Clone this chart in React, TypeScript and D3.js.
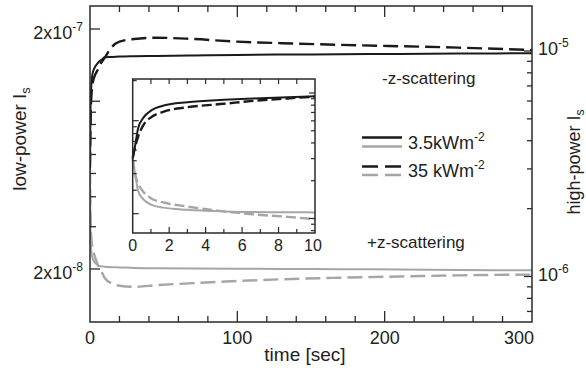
import React, { useEffect, useRef } from "react";
import * as d3 from "d3";

// time in seconds, shared by all four curves
const times = [0, 0.15, 0.3, 0.6, 1, 1.7, 3, 5, 6.6, 8.5, 10, 15, 20, 30, 45, 70, 100, 130, 170, 210, 250, 300];

// 3.5 kWm-2 (low-power axis)
const lowMinusZ = [5.15e-8, 6.7e-8, 8.8e-8, 1.06e-7, 1.19e-7, 1.3e-7, 1.375e-7, 1.435e-7, 1.47e-7, 1.5e-7, 1.525e-7,
  1.53e-7, 1.535e-7, 1.54e-7, 1.545e-7, 1.55e-7, 1.56e-7, 1.565e-7, 1.57e-7, 1.575e-7, 1.58e-7, 1.585e-7];
const lowPlusZ = [5.1e-8, 3.85e-8, 2.95e-8, 2.55e-8, 2.34e-8, 2.22e-8, 2.14e-8, 2.08e-8, 2.055e-8, 2.05e-8, 2.045e-8,
  2.035e-8, 2.03e-8, 2.02e-8, 2.015e-8, 2.01e-8, 2.005e-8, 2.0e-8, 1.995e-8, 1.99e-8, 1.982e-8, 1.975e-8];

// 35 kWm-2 (high-power axis)
const highMinusZ = [3.05e-6, 3.8e-6, 4.5e-6, 5.6e-6, 6.4e-6, 7.1e-6, 7.7e-6, 8.2e-6, 8.65e-6, 9.05e-6, 9.35e-6,
  1.045e-5, 1.1e-5, 1.13e-5, 1.145e-5, 1.13e-5, 1.1e-5, 1.083e-5, 1.065e-5, 1.05e-5, 1.035e-5, 1.01e-5];
const highPlusZ = [3.0e-6, 2.2e-6, 1.9e-6, 1.62e-6, 1.45e-6, 1.34e-6, 1.245e-6, 1.14e-6, 1.08e-6, 1.03e-6, 9.85e-7,
  9.3e-7, 9.1e-7, 9.0e-7, 9.15e-7, 9.35e-7, 9.55e-7, 9.72e-7, 9.88e-7, 1.0e-6, 1.012e-6, 1.02e-6];

const mainXLabels = [0, 100, 200, 300];
const insetXLabels = [0, 2, 4, 6, 8, 10];
const leftLabels = [2e-7, 2e-8];
const rightLabels = [1e-5, 1e-6];
const legendItems = ["3.5kWm", "35 kWm"];

const BLACK = "#1a1a1a";
const GRAY = "#a6a6a6";
const FRAME = "#2a2a2a";
const FONT = "'Liberation Sans', Arial, Helvetica, sans-serif";

const Chart = () => {
  const svgRef = useRef(null);
  const width = 586;
  const height = 374;

  useEffect(() => {
    const svg = d3.select(svgRef.current).attr("width", width).attr("height", height);
    svg.selectAll("*").remove();
    svg.style("font-family", FONT);

    const box = { left: 90, right: 532, top: 6, bottom: 322 };
    const ibox = { left: 132.7, right: 315, top: 79, bottom: 233 };

    const x = d3.scaleLinear().domain([0, 300]).range([box.left, box.right]);
    const yLow = d3.scaleLog().domain([1.2025e-8, 2.494e-7]).range([box.bottom, box.top]);
    const yHigh = d3.scaleLog().domain([6.285e-7, 1.583e-5]).range([box.bottom, box.top]);

    const ix = d3.scaleLinear().domain([0, 10]).range([ibox.left, ibox.right]);
    const iyLow = d3.scaleLog().domain([1.431e-8, 2.058e-7]).range([ibox.bottom, ibox.top]);
    const iyHigh = d3.scaleLog().domain([7.66e-7, 1.293e-5]).range([ibox.bottom, ibox.top]);

    const near = (a, b) => Math.abs(a / b - 1) < 1e-6;

    const defs = svg.append("defs");
    defs.append("clipPath").attr("id", "mainClip").append("rect")
      .attr("x", box.left).attr("y", box.top)
      .attr("width", box.right - box.left).attr("height", box.bottom - box.top);

    // ---- main curves
    const series = [
      { vals: lowMinusZ, y: yLow, iy: iyLow, color: BLACK, dash: null, w: 2 },
      { vals: highMinusZ, y: yHigh, iy: iyHigh, color: BLACK, dash: "15 6", w: 2.4 },
      { vals: lowPlusZ, y: yLow, iy: iyLow, color: GRAY, dash: null, w: 2 },
      { vals: highPlusZ, y: yHigh, iy: iyHigh, color: GRAY, dash: "15 6", w: 2.4 },
    ];

    const mainG = svg.append("g").attr("clip-path", "url(#mainClip)");
    series.forEach((s) => {
      const line = d3.line()
        .x((d, i) => x(times[i]))
        .y((d) => s.y(d))
        .curve(d3.curveMonotoneX);
      mainG.append("path")
        .attr("d", line(s.vals))
        .attr("fill", "none")
        .attr("stroke", s.color)
        .attr("stroke-width", s.w)
        .attr("stroke-dasharray", s.dash);
    });

    // ---- main frame
    svg.append("rect")
      .attr("x", box.left).attr("y", box.top)
      .attr("width", box.right - box.left).attr("height", box.bottom - box.top)
      .attr("fill", "none").attr("stroke", FRAME).attr("stroke-width", 1.5);

    const ticks = svg.append("g").attr("stroke", FRAME).attr("stroke-width", 1.3);

    // x ticks, bottom and top, every 20 s
    d3.range(20, 300, 20).forEach((t) => {
      const len = t % 100 === 0 ? 11 : 6;
      ticks.append("line").attr("x1", x(t)).attr("x2", x(t)).attr("y1", box.bottom).attr("y2", box.bottom - len);
      ticks.append("line").attr("x1", x(t)).attr("x2", x(t)).attr("y1", box.top).attr("y2", box.top + len);
    });

    // left log ticks
    yLow.ticks().forEach((v) => {
      const major = near(v, 1e-7) || near(v, 2e-7) || near(v, 2e-8);
      ticks.append("line").attr("x1", box.left).attr("x2", box.left + (major ? 10 : 6))
        .attr("y1", yLow(v)).attr("y2", yLow(v));
    });

    // right log ticks
    yHigh.ticks().forEach((v) => {
      const major = near(v, 1e-5) || near(v, 1e-6);
      ticks.append("line").attr("x1", box.right).attr("x2", box.right - (major ? 8 : 5))
        .attr("y1", yHigh(v)).attr("y2", yHigh(v));
    });

    // x labels
    mainXLabels.forEach((t, i) => {
      const last = i === mainXLabels.length - 1;
      svg.append("text")
        .attr("x", last ? x(t) + 2 : x(t))
        .attr("y", box.bottom + 22)
        .attr("text-anchor", last ? "end" : "middle")
        .attr("font-size", 18).attr("fill", "#222")
        .text(t);
    });

    const expParts = (v) => {
      const e = Math.floor(Math.log10(v) + 1e-9);
      const m = Math.round(v / Math.pow(10, e));
      return { m, e };
    };

    leftLabels.forEach((v) => {
      const { m, e } = expParts(v);
      const t = svg.append("text")
        .attr("x", 83).attr("y", yLow(v) + 10)
        .attr("text-anchor", "end").attr("font-size", 18).attr("fill", "#222");
      t.append("tspan").text(`${m}x10`);
      t.append("tspan").attr("dy", -8).attr("font-size", 12).text(`${e}`);
    });

    rightLabels.forEach((v) => {
      const { e } = expParts(v);
      const t = svg.append("text")
        .attr("x", 538).attr("y", yHigh(v) + 4)
        .attr("font-size", 18).attr("fill", "#222");
      t.append("tspan").text("10");
      t.append("tspan").attr("dy", -8).attr("font-size", 12).text(`${e}`);
    });

    // axis titles
    svg.append("text")
      .attr("x", 305).attr("y", 361)
      .attr("text-anchor", "middle").attr("font-size", 19).attr("fill", "#222")
      .text("time [sec]");

    const yTitle = (cx, cy, label, size) => {
      const t = svg.append("text")
        .attr("transform", `translate(${cx},${cy}) rotate(-90)`)
        .attr("text-anchor", "middle").attr("font-size", size).attr("fill", "#222");
      t.append("tspan").text(label + " I");
      t.append("tspan").attr("dy", 4).attr("font-size", size * 0.68).text("s");
    };
    yTitle(26, 139, "low-power", 19);
    yTitle(580, 162, "high-power", 18);

    // annotations
    svg.append("text").attr("x", 382).attr("y", 84).attr("font-size", 17).attr("fill", "#222")
      .text("-z-scattering");
    svg.append("text").attr("x", 367).attr("y", 248).attr("font-size", 17).attr("fill", "#222")
      .text("+z-scattering");

    // legend
    const legendRows = [
      { label: legendItems[0], dash: null, yb: 137.5, yg: 146.5, ty: 149 },
      { label: legendItems[1], dash: "16 7", yb: 166.5, yg: 175, ty: 177 },
    ];
    legendRows.forEach((r) => {
      [[r.yb, BLACK], [r.yg, GRAY]].forEach(([yy, c]) => {
        svg.append("line")
          .attr("x1", 362).attr("x2", 402).attr("y1", yy).attr("y2", yy)
          .attr("stroke", c).attr("stroke-width", 2.4)
          .attr("stroke-dasharray", r.dash);
      });
      const t = svg.append("text").attr("x", 408).attr("y", r.ty)
        .attr("font-size", 18).attr("fill", "#222");
      t.append("tspan").text(r.label);
      t.append("tspan").attr("dy", -8).attr("font-size", 12).text("-2");
    });

    // ---- inset
    svg.append("rect")
      .attr("x", ibox.left).attr("y", ibox.top)
      .attr("width", ibox.right - ibox.left).attr("height", ibox.bottom - ibox.top)
      .attr("fill", "#fff");

    const insetIdx = times.map((t, i) => i).filter((i) => times[i] <= 10);
    series.forEach((s) => {
      const line = d3.line()
        .x((i) => ix(times[i]))
        .y((i) => s.iy(s.vals[i]))
        .curve(d3.curveMonotoneX);
      svg.append("path")
        .attr("d", line(insetIdx))
        .attr("fill", "none")
        .attr("stroke", s.color)
        .attr("stroke-width", s.w)
        .attr("stroke-dasharray", s.dash ? "10 4" : null);
    });

    svg.append("rect")
      .attr("x", ibox.left).attr("y", ibox.top)
      .attr("width", ibox.right - ibox.left).attr("height", ibox.bottom - ibox.top)
      .attr("fill", "none").attr("stroke", FRAME).attr("stroke-width", 1.5);

    const iticks = svg.append("g").attr("stroke", FRAME).attr("stroke-width", 1.2);
    d3.range(1, 10, 1).forEach((t) => {
      const len = t % 2 === 0 ? 6 : 4;
      iticks.append("line").attr("x1", ix(t)).attr("x2", ix(t)).attr("y1", ibox.bottom).attr("y2", ibox.bottom - len);
      iticks.append("line").attr("x1", ix(t)).attr("x2", ix(t)).attr("y1", ibox.top).attr("y2", ibox.top + 5);
    });
    iyLow.ticks().forEach((v) => {
      const major = near(v, 1e-7) || near(v, 2e-8);
      iticks.append("line").attr("x1", ibox.left).attr("x2", ibox.left + (major ? 6 : 4))
        .attr("y1", iyLow(v)).attr("y2", iyLow(v));
    });
    iyHigh.ticks().forEach((v) => {
      const major = near(v, 1e-5) || near(v, 1e-6);
      iticks.append("line").attr("x1", ibox.right).attr("x2", ibox.right - (major ? 6 : 4))
        .attr("y1", iyHigh(v)).attr("y2", iyHigh(v));
    });

    insetXLabels.forEach((t) => {
      svg.append("text")
        .attr("x", t === 10 ? ix(t) - 2 : ix(t)).attr("y", 251)
        .attr("text-anchor", "middle").attr("font-size", 16).attr("fill", "#222")
        .text(t);
    });
  }, []);

  return <svg ref={svgRef} style={{ position: "absolute", left: 0, top: 0, background: "#fff" }}></svg>;
};

export default function App() {
  return <Chart />;
}
